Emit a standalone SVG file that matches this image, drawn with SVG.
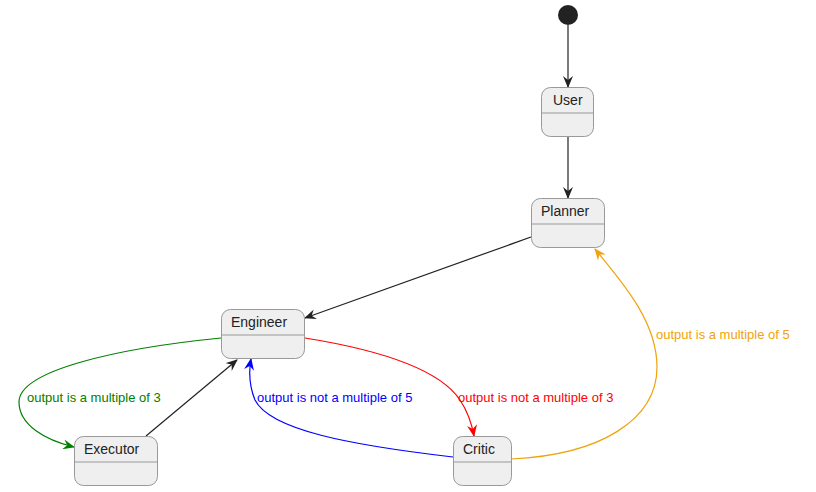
<svg xmlns="http://www.w3.org/2000/svg" width="816" height="492" viewBox="0 0 816 492">
<style>
.node rect{fill:#efefef;stroke:#999;stroke-width:1}
.node line{stroke:#999;stroke-width:1}
.node text{font-family:"Liberation Sans",Arial,sans-serif;font-size:14px;fill:#222}
.edge{fill:none;stroke-width:1.2}
.lbl{font-family:"Liberation Sans",Arial,sans-serif;font-size:13px}
</style>
<defs>
<marker id="ak" viewBox="0 0 12 10" refX="11" refY="5" markerWidth="12" markerHeight="10" markerUnits="userSpaceOnUse" orient="auto"><path d="M0,0 L12,5 L0,10 L4,5 z" fill="#222"/></marker>
<marker id="ag" viewBox="0 0 12 10" refX="11" refY="5" markerWidth="12" markerHeight="10" markerUnits="userSpaceOnUse" orient="auto"><path d="M0,0 L12,5 L0,10 L4,5 z" fill="#008000"/></marker>
<marker id="ar" viewBox="0 0 12 10" refX="11" refY="5" markerWidth="12" markerHeight="10" markerUnits="userSpaceOnUse" orient="auto"><path d="M0,0 L12,5 L0,10 L4,5 z" fill="#ff0000"/></marker>
<marker id="ab" viewBox="0 0 12 10" refX="11" refY="5" markerWidth="12" markerHeight="10" markerUnits="userSpaceOnUse" orient="auto"><path d="M0,0 L12,5 L0,10 L4,5 z" fill="#0000ff"/></marker>
<marker id="ao" viewBox="0 0 12 10" refX="11" refY="5" markerWidth="12" markerHeight="10" markerUnits="userSpaceOnUse" orient="auto"><path d="M0,0 L12,5 L0,10 L4,5 z" fill="#f0a30a"/></marker>
</defs>
<rect width="816" height="492" fill="#fff"/>
<g id="connectors">
<path class="edge" stroke="#222" d="M568,25 L568,87" marker-end="url(#ak)"/>
<path class="edge" stroke="#222" d="M568,136 L568,198" marker-end="url(#ak)"/>
<path class="edge" stroke="#222" d="M531,237 L305,318" marker-end="url(#ak)"/>
<path class="edge" stroke="#222" d="M146,436 L237,360" marker-end="url(#ak)"/>
<path class="edge" stroke="#008000" d="M221,338 C120,348 19,370 19,402 C19,425 45,440 74,447" marker-end="url(#ag)"/>
<path class="edge" stroke="#ff0000" d="M305,338 C380,350 440,370 460,400 C468,412 472,425 474,436" marker-end="url(#ar)"/>
<path class="edge" stroke="#0000ff" d="M453,457 C350,445 270,430 255,400 C249,385 249,370 251,359" marker-end="url(#ab)"/>
<path class="edge" stroke="#f0a30a" d="M511,459 C600,455 657,420 657,367 C657,320 620,280 595,249" marker-end="url(#ao)"/>
<text class="lbl" x="27" y="401.5" fill="#008000">output is a multiple of 3</text>
<text class="lbl" x="458" y="401.5" fill="#ff0000">output is not a multiple of 3</text>
<text class="lbl" x="257" y="401.5" fill="#0000ff">output is not a multiple of 5</text>
<text class="lbl" x="656" y="338.5" fill="#f0a30a">output is a multiple of 5</text>
</g>
<g id="start"><circle cx="568" cy="15" r="10" fill="#222"/></g>
<g id="User" class="node"><rect x="541.5" y="87.5" width="52" height="49" rx="9"/><line x1="541.5" y1="113" x2="593.5" y2="113"/><text x="553" y="105">User</text></g>
<g id="Planner" class="node"><rect x="531.5" y="198.5" width="73" height="49" rx="9"/><line x1="531.5" y1="224" x2="604.5" y2="224"/><text x="541" y="216">Planner</text></g>
<g id="Engineer" class="node"><rect x="221.5" y="309.5" width="83" height="49" rx="9"/><line x1="221.5" y1="335" x2="304.5" y2="335"/><text x="231" y="327">Engineer</text></g>
<g id="Executor" class="node"><rect x="74.5" y="436.5" width="83" height="49" rx="9"/><line x1="74.5" y1="462" x2="157.5" y2="462"/><text x="84" y="454">Executor</text></g>
<g id="Critic" class="node"><rect x="453.5" y="436.5" width="58" height="49" rx="9"/><line x1="453.5" y1="462" x2="511.5" y2="462"/><text x="463" y="454">Critic</text></g>
</svg>
